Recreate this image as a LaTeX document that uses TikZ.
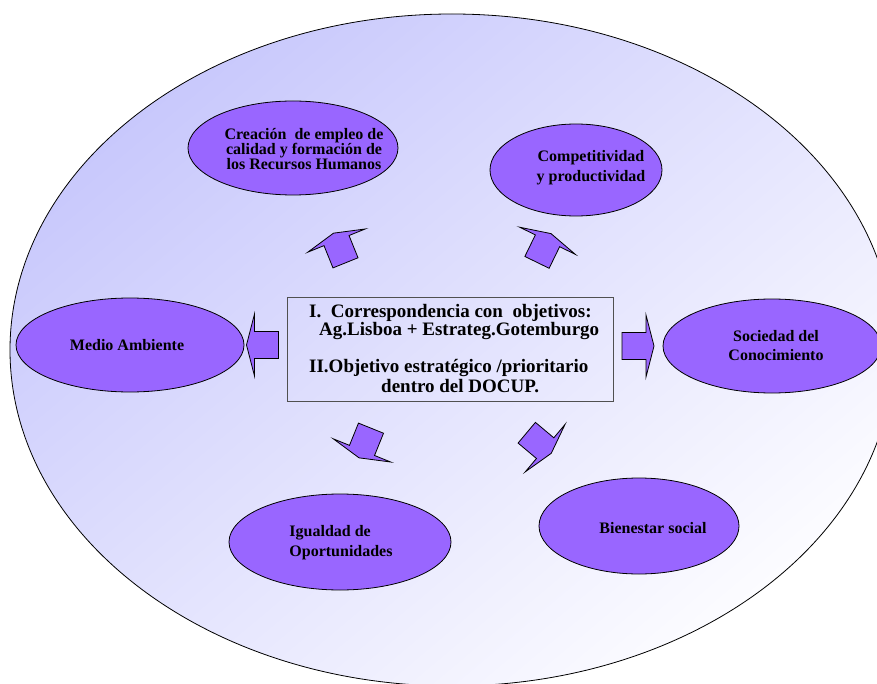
\documentclass[tikz,border=0pt]{standalone}
\usepackage{fontspec}
\setmainfont{Liberation Serif}
\usetikzlibrary{shapes.geometric}
\definecolor{ovalfill}{HTML}{9966FF}
\definecolor{bgA}{HTML}{C8C8FC}
\definecolor{bgM}{HTML}{E2E2FA}
\definecolor{bgB}{HTML}{FCFCFF}
\definecolor{boxline}{HTML}{505050}
\begin{document}
\begin{tikzpicture}[x=1pt,y=-1pt,
  oval/.style={ellipse, draw=black, line width=0.8pt, fill=ovalfill, inner sep=0pt},
  lbl/.style={font=\fontsize{16}{#1}\selectfont\bfseries, align=center, inner sep=0pt},
  lbl/.default=15,
  boxtxt/.style={font=\fontsize{19}{19}\selectfont\bfseries, anchor=base west, inner sep=0pt},
  barrow/.pic={\draw[fill=ovalfill, draw=black, line width=0.8pt, line join=miter]
     (-16,-13.5) -- (8,-13.5) -- (8,-31) -- (16,0) -- (8,31) -- (8,13.5) -- (-16,13.5) -- cycle;}
]
\useasboundingbox (0,0) rectangle (877,684);
\clip (0,0) rectangle (877,684);
% background ellipse
\shadedraw[top color=bgA, middle color=bgM, bottom color=bgB, shading angle=40, draw=black, line width=0.8pt]
  (452,350) ellipse [x radius=442pt, y radius=336pt];

% ovals
\node[oval, minimum width=210pt, minimum height=94pt] (e1) at (293,148) {};
\node[oval, minimum width=172pt, minimum height=92pt] (e2) at (576,170) {};
\node[oval, minimum width=228pt, minimum height=94pt] (e3) at (130,345) {};
\node[oval, minimum width=218pt, minimum height=94pt] (e4) at (772,346) {};
\node[oval, minimum width=222pt, minimum height=96pt] (e5) at (340,542) {};
\node[oval, minimum width=200pt, minimum height=96pt] (e6) at (639,526) {};

\node[lbl=15] (t1) at (304,149) {Creación\ \ de empleo de\\calidad y formación de\\los Recursos Humanos};
\node[lbl=20] (t2) at (591,168) {Competitividad\\y productividad};
\node[lbl] (t3) at (127,345) {Medio Ambiente};
\node[lbl=19] (t4) at (776,346) {Sociedad del\\Conocimiento};
\node[lbl=20, align=left] (t5) at (341,543) {Igualdad de\\Oportunidades};
\node[lbl] (t6) at (653,528) {Bienestar social};

% central box
\node[draw=boxline, line width=0.8pt, minimum width=326pt, minimum height=104pt, inner sep=0pt] (box) at (450,349) {};
\node[boxtxt] (l1) at (309,317.5) {I.\ \ Correspondencia con\ \ objetivos:};
\node[boxtxt] (l2) at (319,335) {Ag.Lisboa + Estrateg.Gotemburgo};
\node[boxtxt] (l3) at (309,372) {II.Objetivo estratégico /prioritario};
\node[boxtxt] (l4) at (381,392.5) {dentro del DOCUP.};

% block arrows
\pic[rotate=180] (a1) at (262.5,345) {barrow};
\pic[rotate=0] (a2) at (638,346) {barrow};
\pic[rotate=112] (a3) at (339.5,248) {barrow};
\pic[rotate=64] (a4) at (544,248) {barrow};
\pic[rotate=248] (a5) at (365,443) {barrow};
\pic[rotate=-40] (a6) at (539,443) {barrow};
\end{tikzpicture}
\end{document}
